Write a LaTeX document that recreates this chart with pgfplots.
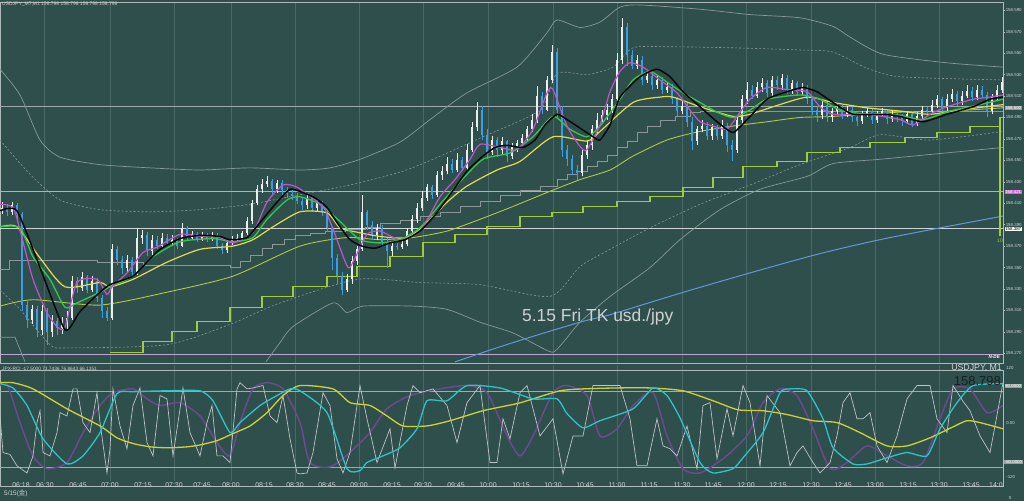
\documentclass[border=0pt]{standalone}
\usepackage{fontspec}
\setmainfont{Liberation Sans}
\newfontfamily\cjk{Noto Sans CJK JP}
\usepackage{pgfplots}
\pgfplotsset{compat=1.18}
\usepackage{pgfplotstable}

\definecolor{bgc}{RGB}{47,79,77}
\definecolor{framec}{RGB}{175,185,185}
\definecolor{gridc}{RGB}{74,104,102}
\definecolor{labc}{RGB}{205,212,212}
\definecolor{cup}{RGB}{236,238,238}
\definecolor{cdn}{RGB}{58,158,226}
\definecolor{mablack}{RGB}{8,8,8}
\definecolor{mamag}{RGB}{190,85,205}
\definecolor{magreen}{RGB}{50,200,70}
\definecolor{mayel}{RGB}{225,220,75}
\definecolor{maolive}{RGB}{175,200,70}
\definecolor{stepg}{RGB}{160,205,60}
\definecolor{stepgray}{RGB}{140,150,150}
\definecolor{bandc}{RGB}{135,152,150}
\definecolor{mablue}{RGB}{100,150,215}
\definecolor{lvgray}{RGB}{160,172,172}
\definecolor{lvlav}{RGB}{190,165,210}
\definecolor{lvwhite}{RGB}{205,210,210}
\definecolor{rciyel}{RGB}{205,210,50}
\definecolor{rcicyan}{RGB}{45,195,200}
\definecolor{rcipur}{RGB}{105,75,140}
\definecolor{rcigray}{RGB}{190,195,195}
\definecolor{boxgray}{RGB}{150,158,158}
\definecolor{boxmag}{RGB}{215,100,215}
\definecolor{darkc}{RGB}{22,32,32}

% exact shift of prices by 158 before pgfplots' float scaling
\makeatletter
\def\pr@shiftb#1.#2#3#4\@nil{#1#2#3.#4}
\def\pr@plain#1{%
  \begingroup
  \pgf@xa=#1pt\relax
  \advance\pgf@xa by -158pt\relax
  \xdef\pr@res{\pgf@sys@tonumber\pgf@xa}%
  \endgroup
  \pgfmathfloatparsenumber{\pr@res}}
\def\pr@fpu#1e#2]#3\@nil{%
  \ifnum#2=2\relax
    \edef\pr@num{\pr@shiftb#1000\@nil}%
  \else
    \pgfmathfloattofixed{1Y#1e#2]}\let\pr@num\pgfmathresult
  \fi
  \pr@plain{\pr@num}}
\def\pr@detect#1Y#2\@nil{%
  \if\relax\detokenize{#2}\relax
    \pr@plain{#1}%
  \else
    \pr@fpu#2\@nil
  \fi}
\def\pricetrafo#1{\edef\pr@in{#1}\expandafter\pr@detect\pr@in Y\@nil}
\makeatother
\pgfplotsset{pricey/.style={y coord trafo/.code={\pricetrafo{##1}}}}

% up (white) candles: x, low, wick range, body bottom, body size
\pgfplotstableread{
x l wr b br
2 158.400 0.011 158.404 0.002
12 158.399 0.012 158.402 0.006
32 158.297 0.018 158.301 0.010
42 158.287 0.028 158.292 0.017
52 158.285 0.021 158.290 0.010
62 158.288 0.016 158.294 0.004
67 158.292 0.017 158.298 0.005
72 158.301 0.041 158.303 0.034
82 158.328 0.018 158.331 0.010
92 158.327 0.015 158.329 0.008
112 158.301 0.071 158.303 0.064
127 158.346 0.016 158.350 0.007
137 158.343 0.044 158.346 0.032
142 158.372 0.013 158.378 0.002
152 158.362 0.018 158.365 0.011
162 158.368 0.014 158.370 0.008
172 158.370 0.010 158.373 0.003
182 158.369 0.023 158.370 0.017
192 158.376 0.008 158.378 0.003
202 158.375 0.008 158.377 0.003
212 158.375 0.008 158.377 0.003
227 158.364 0.012 158.366 0.007
232 158.371 0.008 158.373 0.003
237 158.374 0.007 158.376 0.002
242 158.376 0.008 158.378 0.004
247 158.380 0.017 158.382 0.011
252 158.391 0.022 158.393 0.017
257 158.408 0.019 158.410 0.013
262 158.420 0.013 158.423 0.005
267 158.425 0.010 158.428 0.003
277 158.420 0.012 158.423 0.006
307 158.405 0.014 158.408 0.007
317 158.403 0.010 158.406 0.004
347 158.327 0.017 158.329 0.010
352 158.335 0.026 158.339 0.017
357 158.352 0.018 158.356 0.011
362 158.365 0.053 158.367 0.035
377 158.376 0.015 158.380 0.007
392 158.361 0.013 158.365 0.005
402 158.367 0.008 158.369 0.003
407 158.370 0.017 158.372 0.012
412 158.382 0.017 158.384 0.011
417 158.392 0.018 158.395 0.011
422 158.403 0.018 158.406 0.009
427 158.412 0.016 158.415 0.010
437 158.416 0.024 158.418 0.018
442 158.432 0.013 158.436 0.004
447 158.437 0.016 158.440 0.007
457 158.439 0.018 158.441 0.009
467 158.441 0.024 158.443 0.017
472 158.458 0.028 158.460 0.021
477 158.477 0.027 158.481 0.016
492 158.455 0.018 158.458 0.011
502 158.456 0.016 158.460 0.008
512 158.451 0.015 158.454 0.008
517 158.458 0.011 158.462 0.004
522 158.463 0.012 158.466 0.005
527 158.468 0.014 158.471 0.008
532 158.476 0.017 158.479 0.009
537 158.485 0.034 158.488 0.022
547 158.496 0.033 158.497 0.028
552 158.522 0.036 158.525 0.026
582 158.435 0.025 158.438 0.017
587 158.451 0.018 158.455 0.009
592 158.460 0.023 158.464 0.015
597 158.475 0.019 158.479 0.009
602 158.484 0.013 158.488 0.004
607 158.488 0.015 158.492 0.005
612 158.494 0.018 158.497 0.010
617 158.503 0.047 158.507 0.037
622 158.540 0.043 158.544 0.030
637 158.535 0.013 158.538 0.006
647 158.522 0.011 158.525 0.004
657 158.517 0.012 158.520 0.005
667 158.513 0.009 158.516 0.002
682 158.493 0.012 158.496 0.005
697 158.464 0.018 158.468 0.011
702 158.476 0.012 158.479 0.003
712 158.469 0.015 158.473 0.008
722 158.470 0.018 158.473 0.009
737 158.457 0.035 158.460 0.028
742 158.484 0.027 158.488 0.019
747 158.503 0.020 158.507 0.009
757 158.508 0.015 158.510 0.008
762 158.514 0.013 158.518 0.004
772 158.510 0.019 158.513 0.012
782 158.516 0.015 158.520 0.007
792 158.512 0.013 158.516 0.006
802 158.511 0.011 158.514 0.004
822 158.489 0.017 158.492 0.010
832 158.486 0.013 158.490 0.006
837 158.492 0.011 158.496 0.003
847 158.490 0.011 158.493 0.004
862 158.484 0.012 158.487 0.006
867 158.490 0.009 158.493 0.003
877 158.485 0.011 158.488 0.005
882 158.490 0.009 158.493 0.003
892 158.486 0.010 158.489 0.004
907 158.484 0.012 158.487 0.006
917 158.482 0.013 158.484 0.007
922 158.488 0.013 158.491 0.006
932 158.493 0.013 158.496 0.006
937 158.499 0.012 158.502 0.005
947 158.496 0.016 158.499 0.008
952 158.504 0.013 158.507 0.005
962 158.502 0.013 158.505 0.005
967 158.508 0.012 158.510 0.005
977 158.506 0.014 158.509 0.007
992 158.493 0.019 158.496 0.013
997 158.506 0.014 158.509 0.007
1002 158.513 0.015 158.516 0.007
}\upc

% down (blue) candles
\pgfplotstableread{
x l wr b br
7 158.398 0.011 158.402 0.004
17 158.393 0.017 158.400 0.008
22 158.309 0.093 158.315 0.085
27 158.294 0.026 158.301 0.014
37 158.285 0.029 158.292 0.019
47 158.278 0.034 158.290 0.019
57 158.287 0.016 158.294 0.006
77 158.326 0.015 158.331 0.006
87 158.326 0.017 158.329 0.012
97 158.318 0.022 158.322 0.015
102 158.303 0.021 158.309 0.013
107 158.300 0.013 158.303 0.006
117 158.352 0.018 158.357 0.010
122 158.344 0.017 158.350 0.007
132 158.341 0.019 158.346 0.011
147 158.361 0.022 158.365 0.015
157 158.367 0.012 158.370 0.006
167 158.370 0.011 158.373 0.005
177 158.367 0.011 158.370 0.006
187 158.375 0.014 158.378 0.009
197 158.374 0.009 158.377 0.004
207 158.374 0.008 158.377 0.003
217 158.367 0.015 158.370 0.010
222 158.363 0.010 158.366 0.004
272 158.419 0.014 158.423 0.008
282 158.418 0.014 158.422 0.007
287 158.415 0.010 158.419 0.003
292 158.413 0.010 158.417 0.002
297 158.409 0.011 158.412 0.005
302 158.404 0.011 158.408 0.004
312 158.402 0.015 158.406 0.009
322 158.398 0.014 158.402 0.008
327 158.383 0.021 158.387 0.015
332 158.348 0.041 158.359 0.028
337 158.335 0.028 158.342 0.017
342 158.324 0.022 158.329 0.013
367 158.385 0.019 158.390 0.012
372 158.376 0.017 158.380 0.010
382 158.369 0.021 158.374 0.013
387 158.350 0.028 158.365 0.009
397 158.366 0.007 158.369 0.001
432 158.414 0.013 158.418 0.007
452 158.438 0.013 158.441 0.006
462 158.440 0.013 158.443 0.007
482 158.469 0.032 158.474 0.023
487 158.451 0.028 158.458 0.016
497 158.453 0.019 158.460 0.009
507 158.448 0.021 158.454 0.014
542 158.493 0.021 158.497 0.013
557 158.490 0.065 158.497 0.054
562 158.453 0.048 158.460 0.037
567 158.445 0.019 158.451 0.009
572 158.436 0.019 158.441 0.010
577 158.432 0.014 158.438 0.003
627 158.538 0.040 158.548 0.026
632 158.535 0.018 158.538 0.010
642 158.520 0.027 158.525 0.019
652 158.516 0.017 158.520 0.009
662 158.512 0.016 158.516 0.009
672 158.503 0.018 158.507 0.011
677 158.490 0.019 158.496 0.011
687 158.481 0.023 158.486 0.015
692 158.460 0.030 158.468 0.018
707 158.469 0.017 158.473 0.009
717 158.469 0.014 158.473 0.008
727 158.458 0.027 158.464 0.018
732 158.449 0.020 158.460 0.004
752 158.507 0.013 158.510 0.006
767 158.509 0.016 158.513 0.009
777 158.516 0.013 158.520 0.005
787 158.512 0.018 158.516 0.011
797 158.510 0.014 158.514 0.008
807 158.503 0.017 158.507 0.011
812 158.492 0.017 158.497 0.010
817 158.486 0.015 158.492 0.005
827 158.486 0.019 158.490 0.012
842 158.489 0.013 158.493 0.006
852 158.486 0.014 158.490 0.007
857 158.482 0.012 158.487 0.003
872 158.484 0.014 158.488 0.008
887 158.484 0.014 158.489 0.007
897 158.486 0.010 158.490 0.003
902 158.482 0.011 158.487 0.003
912 158.481 0.015 158.484 0.009
927 158.492 0.008 158.496 0.001
942 158.496 0.013 158.499 0.008
957 158.501 0.014 158.505 0.007
972 158.505 0.013 158.509 0.006
982 158.508 0.011 158.511 0.005
987 158.490 0.024 158.496 0.015
}\dnc

\pgfplotsset{
  mt4/.style={scale only axis, width=1003bp, xmin=0, xmax=1003,
    axis line style={draw=framec, line width=0.7bp},
    xtick=\empty, tick align=outside, major tick length=2bp},
  wick/.style={draw=none, mark=none, forget plot,
    error bars/.cd, y dir=plus, y explicit, error mark=none,
    error bar style={draw=#1, line width=0.7bp}},
  body/.style={draw=none, mark=none, forget plot,
    error bars/.cd, y dir=plus, y explicit, error mark=none,
    error bar style={draw=#1, line width=2.3bp}},
}

\begin{document}
\begin{tikzpicture}[x=1bp,y=1bp]
\useasboundingbox (0,0) rectangle (1024,501);
\fill[bgc] (0,0) rectangle (1024,501);
% vertical half-hour grid lines
\foreach \g in {44,110,174,231,295,359,423,488,553,617,682,746,811,875,939} {
  \draw[gridc, line width=0.5bp] (\g,138) -- (\g,499);
  \draw[gridc, line width=0.5bp] (\g,20) -- (\g,136);
}

% ================= main price panel =================
\begin{axis}[mt4, pricey,
  at={(0,128.5)}, anchor=south west, height=361bp,
  ymin=158.2607, ymax=158.5975,
  ytick={158.270,158.290,158.310,158.330,158.350,158.370,158.390,158.410,158.430,158.450,158.470,158.490,158.510,158.530,158.550,158.570,158.590},
  yticklabels={158.270,158.290,158.310,158.330,158.350,158.370,158.390,158.410,158.430,158.450,158.470,158.490,158.510,158.530,158.550,158.570,158.590},
  ytick pos=right, yticklabel pos=right,
  ytick style={draw=framec, line width=0.4bp},
  yticklabel style={font=\fontsize{4.4}{5}\selectfont, text=labc, inner sep=0.6bp},
]
% level lines
\addplot[lvgray, line width=0.6bp] coordinates {(0,158.500)(1003,158.500)};
\addplot[lvlav, line width=0.6bp] coordinates {(0,158.421)(1003,158.421)};
\addplot[lvwhite, line width=0.6bp] coordinates {(0,158.387)(1003,158.387)};
\addplot[lvlav, line width=0.9bp] coordinates {(0,158.269)(1003,158.269)};
% bands
\addplot[bandc, line width=0.7bp, smooth, tension=0.4] coordinates {(0,158.535)(20,158.511)(40,158.469)(60,158.453)(100,158.446)(150,158.443)(200,158.441)(250,158.443)(300,158.441)(330,158.443)(360,158.451)(400,158.467)(430,158.488)(467,158.513)(517,158.537)(547,158.569)(557,158.581)(580,158.574)(600,158.579)(620,158.593)(640,158.595)(700,158.591)(750,158.586)(800,158.583)(833,158.575)(850,158.565)(883,158.549)(947,158.541)(1003,158.537)};
\addplot[bandc, line width=0.6bp, dash pattern=on 2bp off 2bp, smooth, tension=0.4] coordinates {(0,158.469)(30,158.437)(60,158.413)(100,158.404)(150,158.402)(200,158.404)(250,158.409)(300,158.418)(350,158.427)(400,158.439)(433,158.451)(483,158.472)(540,158.497)(557,158.531)(587,158.530)(613,158.537)(633,158.555)(667,158.556)(733,158.555)(800,158.553)(833,158.551)(867,158.536)(900,158.528)(1003,158.525)};
\addplot[bandc, line width=0.6bp, dash pattern=on 2bp off 2bp, smooth, tension=0.4] coordinates {(0,158.329)(20,158.311)(50,158.278)(67,158.275)(167,158.278)(230,158.297)(280,158.317)(357,158.339)(420,158.336)(480,158.334)(550,158.323)(580,158.351)(610,158.367)(650,158.387)(700,158.409)(750,158.427)(800,158.446)(850,158.462)(880,158.474)(930,158.469)(1003,158.477)};
\addplot[bandc, line width=0.7bp] coordinates {(0,158.285)(15,158.285)(25,158.262)};
\addplot[bandc, line width=0.7bp, smooth, tension=0.4] coordinates {(266,158.262)(280,158.280)(293,158.295)(333,158.317)(347,158.308)(363,158.314)(413,158.314)(447,158.311)(480,158.299)(513,158.289)(540,158.276)(553,158.271)(563,158.280)(580,158.299)(610,158.323)(650,158.350)(680,158.376)(720,158.404)(760,158.423)(807,158.435)(833,158.447)(880,158.451)(947,158.457)(1003,158.462)};
% long MA
\addplot[mablue, line width=1bp, smooth] coordinates {(455,158.262)(513,158.280)(580,158.299)(610,158.306)(680,158.326)(750,158.345)(820,158.363)(880,158.376)(940,158.387)(1003,158.398)};
% gray step line
\addplot[stepgray, line width=0.6bp, const plot] coordinates {(0,158.348)(9,158.357)(97,158.355)(143,158.352)(230,158.350)(240,158.356)(250,158.361)(262,158.368)(272,158.372)(284,158.376)(295,158.380)(310,158.382)(325,158.384)(345,158.386)(365,158.388)(380,158.391)(400,158.394)(420,158.398)(440,158.402)(460,158.407)(480,158.412)(500,158.417)(520,158.422)(540,158.426)(557,158.432)(567,158.437)(577,158.440)(587,158.444)(597,158.449)(607,158.455)(617,158.462)(627,158.468)(637,158.476)(647,158.482)(660,158.487)(675,158.491)(690,158.495)(700,158.496)(1003,158.496)};
% green step line
\addplot[stepg, line width=1.1bp, const plot] coordinates {(110,158.271)(143,158.281)(172,158.290)(197,158.300)(230,158.313)(262,158.323)(293,158.332)(327,158.342)(357,158.351)(390,158.360)(423,158.373)(455,158.381)(487,158.388)(520,158.398)(552,158.401)(583,158.407)(617,158.412)(650,158.416)(683,158.425)(713,158.434)(743,158.444)(777,158.449)(807,158.457)(840,158.462)(870,158.467)(905,158.471)(937,158.476)(970,158.482)(1000,158.490)(1003,158.490)};
\addplot[stepg, line width=1.1bp] coordinates {(1000,158.490)(1000,158.379)};
% slow olive MA
\addplot[maolive, line width=0.9bp, smooth, tension=0.4] coordinates {(0,158.314)(33,158.320)(100,158.315)(167,158.327)(233,158.342)(300,158.370)(347,158.378)(380,158.376)(413,158.378)(447,158.384)(480,158.395)(513,158.407)(547,158.420)(580,158.432)(610,158.441)(633,158.454)(667,158.469)(700,158.477)(733,158.482)(767,158.486)(800,158.490)(833,158.491)(900,158.495)(950,158.496)(1003,158.499)};
% candles
\addplot[wick=cup] table[x=x, y=l, y error=wr] {\upc};
\addplot[body=cup] table[x=x, y=b, y error=br] {\upc};
\addplot[wick=cdn] table[x=x, y=l, y error=wr] {\dnc};
\addplot[body=cdn] table[x=x, y=b, y error=br] {\dnc};
% yellow MA
\addplot[mayel, line width=1.2bp, smooth, tension=0.4] coordinates {(0,158.388)(17,158.388)(40,158.359)(65,158.332)(100,158.336)(110,158.332)(133,158.339)(167,158.355)(200,158.367)(233,158.370)(253,158.376)(273,158.388)(300,158.402)(327,158.401)(340,158.387)(357,158.383)(380,158.379)(407,158.378)(427,158.392)(447,158.411)(467,158.426)(497,158.441)(520,158.449)(553,158.472)(587,158.468)(600,158.477)(633,158.504)(660,158.509)(673,158.509)(700,158.500)(733,158.491)(750,158.493)(773,158.500)(807,158.509)(833,158.504)(867,158.499)(900,158.496)(930,158.493)(960,158.497)(1003,158.502)};
% green MA
\addplot[magreen, line width=1.3bp, smooth, tension=0.4] coordinates {(0,158.388)(20,158.387)(33,158.360)(50,158.339)(65,158.313)(77,158.317)(100,158.327)(110,158.332)(133,158.342)(153,158.360)(180,158.374)(213,158.377)(233,158.374)(253,158.378)(267,158.395)(287,158.413)(300,158.416)(320,158.409)(340,158.393)(360,158.376)(380,158.373)(400,158.376)(420,158.387)(440,158.409)(460,158.430)(483,158.451)(510,158.457)(533,158.472)(553,158.491)(570,158.479)(587,158.472)(600,158.482)(620,158.507)(633,158.525)(650,158.533)(667,158.523)(683,158.513)(700,158.504)(717,158.495)(733,158.490)(750,158.497)(767,158.507)(800,158.511)(820,158.507)(840,158.497)(867,158.493)(900,158.492)(923,158.488)(950,158.496)(980,158.502)(1003,158.507)};
% magenta MA
\addplot[mamag, line width=1.2bp, smooth, tension=0.4] coordinates {(0,158.409)(13,158.406)(20,158.385)(33,158.339)(47,158.308)(57,158.295)(65,158.294)(77,158.336)(97,158.339)(107,158.325)(112,158.332)(127,158.345)(143,158.364)(157,158.369)(180,158.381)(200,158.379)(220,158.378)(233,158.373)(253,158.383)(267,158.411)(283,158.427)(297,158.425)(315,158.413)(325,158.404)(335,158.381)(348,158.350)(355,158.359)(367,158.381)(380,158.384)(400,158.376)(420,158.384)(440,158.416)(455,158.432)(470,158.451)(480,158.465)(500,158.462)(517,158.460)(533,158.479)(547,158.513)(553,158.516)(567,158.482)(580,158.463)(587,158.460)(600,158.483)(610,158.514)(620,158.533)(630,158.541)(643,158.537)(660,158.525)(677,158.513)(690,158.497)(700,158.486)(713,158.482)(727,158.479)(737,158.491)(750,158.507)(767,158.518)(787,158.516)(807,158.514)(820,158.500)(833,158.493)(867,158.493)(900,158.488)(913,158.483)(930,158.493)(947,158.500)(973,158.507)(990,158.509)(1003,158.511)};
% black MA
\addplot[mablack, line width=1.5bp, smooth, tension=0.35] coordinates {(0,158.403)(17,158.403)(40,158.350)(65,158.292)(80,158.309)(100,158.327)(110,158.334)(133,158.342)(147,158.355)(160,158.367)(180,158.377)(200,158.380)(220,158.379)(230,158.376)(247,158.378)(260,158.392)(277,158.411)(290,158.423)(300,158.421)(315,158.415)(327,158.406)(337,158.392)(350,158.376)(362,158.370)(375,158.368)(390,158.373)(405,158.376)(420,158.384)(435,158.399)(450,158.418)(467,158.440)(483,158.454)(495,158.462)(507,158.464)(523,158.462)(535,158.469)(545,158.483)(557,158.493)(567,158.488)(577,158.482)(593,158.472)(600,158.469)(610,158.483)(620,158.509)(640,158.528)(657,158.535)(670,158.528)(683,158.514)(700,158.500)(717,158.486)(733,158.476)(747,158.488)(767,158.507)(787,158.514)(803,158.518)(817,158.514)(833,158.504)(853,158.493)(883,158.493)(900,158.491)(923,158.486)(947,158.493)(973,158.500)(990,158.507)(1003,158.509)};
\end{axis}

% ================= RCI panel =================
\begin{axis}[mt4,
  at={(0,30)}, anchor=south west, height=116bp,
  ymin=-120, ymax=124.2, ytick=\empty,
]
\addplot[lvgray, line width=0.6bp] coordinates {(0,80)(1003,80)};
\addplot[lvgray, line width=0.6bp] coordinates {(0,-80)(1003,-80)};
\addplot[rcipur, line width=1.5bp, smooth, tension=0.4] coordinates {(0,93)(7,97)(20,15)(33,-55)(47,-82)(67,-69)(83,-6)(100,51)(113,78)(133,86)(147,65)(160,51)(180,57)(200,29)(217,-27)(230,-55)(240,15)(253,86)(267,99)(283,86)(300,15)(310,-69)(333,-76)(367,-13)(387,44)(410,72)(440,86)(467,93)(487,78)(507,-13)(520,-55)(533,-13)(553,78)(567,93)(587,72)(600,-13)(617,2)(633,51)(653,78)(667,-13)(683,-82)(700,-91)(723,-61)(747,-13)(763,57)(780,86)(797,72)(813,2)(830,-82)(847,-69)(867,-34)(887,-55)(907,-76)(923,-69)(940,23)(953,86)(970,86)(987,36)(1003,51)};
\addplot[rcigray, line width=0.7bp] coordinates {(0,29)(3,-48)(10,-52)(17,-76)(27,-91)(33,-55)(37,15)(40,40)(43,-48)(50,-55)(57,-6)(60,36)(67,29)(73,86)(77,86)(83,15)(90,-6)(97,78)(100,15)(107,-91)(110,-40)(113,86)(120,8)(127,-40)(133,51)(140,88)(147,-27)(153,-55)(160,72)(167,65)(173,-55)(180,44)(183,88)(190,-6)(200,-55)(207,15)(212,51)(217,-55)(223,-55)(230,-69)(237,86)(240,99)(247,86)(253,88)(263,93)(270,29)(277,15)(283,72)(290,-19)(297,-91)(300,-93)(307,-91)(313,-48)(323,78)(330,51)(337,-61)(343,-91)(350,-48)(360,93)(367,23)(377,-69)(390,2)(395,-80)(407,51)(413,93)(420,78)(433,86)(447,51)(457,-27)(467,57)(480,93)(490,-69)(497,-69)(503,23)(510,-19)(520,78)(527,93)(540,-13)(553,23)(563,-93)(573,-13)(583,-13)(593,93)(607,93)(620,93)(630,23)(637,-76)(647,-76)(657,23)(663,-34)(670,-40)(677,-55)(687,8)(697,-82)(703,51)(710,57)(717,-61)(727,44)(733,-13)(743,93)(750,57)(760,-76)(767,72)(780,36)(790,-76)(797,-48)(803,-34)(813,-69)(820,-91)(830,-69)(837,-13)(843,57)(850,78)(857,23)(863,23)(870,36)(877,-34)(887,-69)(897,-13)(907,65)(917,93)(930,93)(937,23)(947,-6)(953,93)(963,60)(970,40)(980,-13)(990,-48)(1003,99)};
\addplot[rciyel, line width=1.3bp, smooth, tension=0.4] coordinates {(0,99)(13,99)(33,86)(67,44)(100,8)(117,-17)(133,-29)(150,-36)(167,-38)(187,-36)(200,-32)(217,-23)(233,-8)(250,8)(267,36)(283,72)(300,93)(333,86)(350,57)(370,51)(387,29)(403,8)(427,8)(450,19)(483,40)(517,55)(533,65)(560,82)(583,86)(617,88)(650,88)(683,82)(713,61)(738,42)(763,40)(787,32)(813,19)(837,15)(860,-6)(887,-34)(907,-34)(930,-17)(953,6)(967,19)(980,15)(1003,2)};
\addplot[rcicyan, line width=1.3bp, smooth, tension=0.35] coordinates {(0,97)(13,88)(27,51)(43,-19)(67,-72)(83,-55)(100,-6)(117,76)(133,80)(167,82)(200,82)(213,61)(230,-6)(240,15)(260,51)(277,72)(290,86)(300,82)(327,36)(347,-82)(360,-86)(367,-69)(383,-55)(400,-38)(417,2)(427,61)(447,61)(467,93)(500,88)(533,65)(557,65)(567,34)(583,4)(600,19)(633,44)(653,88)(667,72)(680,25)(700,-69)(713,-91)(733,-82)(743,-59)(763,-6)(780,78)(790,86)(807,82)(823,23)(833,-38)(853,-72)(867,-72)(887,-59)(907,-48)(927,-55)(940,2)(957,57)(973,93)(1003,97)};
\end{axis}

% ================= texts =================
\tikzset{lab/.style={font=\fontsize{4.4}{5}\selectfont, text=labc, inner sep=0.6bp, anchor=west}}
\foreach \xx/\tl in {21/06:18,45/06:30,78/06:45,110/07:00,143/07:15,174/07:30,202/07:45,231/08:00,264/08:15,295/08:30,327/08:45,359/09:00,392/09:15,423/09:30,456/09:45,488/10:00,521/10:15,553/10:30,585/10:45,617/11:00,649/11:15,682/11:30,713/11:45,746/12:00,778/12:15,811/12:30,843/12:45,875/13:00,908/13:15,939/13:30,971/13:45}
  \node[font=\fontsize{7}{8}\selectfont, text=labc, inner sep=0] at (\xx,16) {\tl};
\node[anchor=east, font=\fontsize{7}{8}\selectfont, text=labc, inner sep=0] at (1003,16) {14:0};
\node[anchor=west, font=\fontsize{6.5}{7}\selectfont, text=labc, inner sep=0] at (4,7.5) {5/15({\cjk 金})};
\node[anchor=west, font=\fontsize{5}{6}\selectfont, text=labc, inner sep=0] at (2,496.3) {USDJPY\_M7,M1 158.798 158.798 158.798 158.798};
\node[anchor=west, font=\fontsize{4.8}{6}\selectfont, text=labc, inner sep=0] at (2,132) {JPX-RCI -17.5000 73.7436 76.8643 66.1351};
\node[anchor=west, font=\fontsize{17.5}{20}\selectfont, text=lvwhite, inner sep=0] at (522,184.5) {5.15 Fri TK usd./jpy};
\node[anchor=east, font=\fontsize{8.8}{10}\selectfont, text=labc, inner sep=0] at (1002,133) {USDJPY, M1};
\node[anchor=east, font=\fontsize{13}{15}\selectfont, text=darkc, inner sep=0] at (1001,120) {158.798};
\node[anchor=east, font=\fontsize{4.6}{5}\selectfont\bfseries\itshape, text=white, inner sep=0] at (1000,144.5) {N-DE};
\node[lab, fill=boxgray, text=white] at (1004.5,393) {158.500};
\node[lab, fill=boxmag, text=white] at (1004.5,309) {158.421};
\node[lab, fill=white, text=black] at (1004.5,272) {158.387};
\node[font=\fontsize{5}{6}\selectfont, text=stepg, inner sep=0] at (1000,260) {10};
\node[lab] at (1005.5,133) {120};
\node[lab, fill=boxgray, text=white] at (1004.5,115) {80.0000};
\node[lab] at (1005.5,78) {0.00};
\node[lab, fill=boxgray, text=white] at (1004,39) {-80.0000};
\node[lab] at (1005.5,24) {-120};
\node[lab] at (1008,3) {0};
\end{tikzpicture}
\end{document}
